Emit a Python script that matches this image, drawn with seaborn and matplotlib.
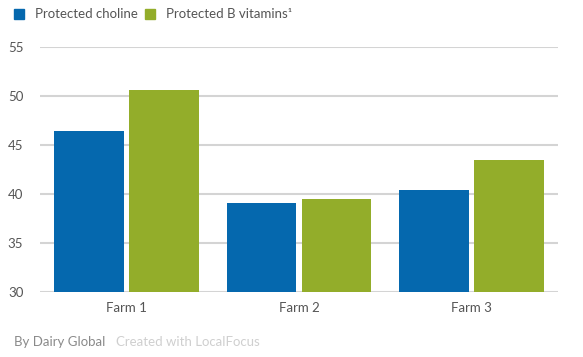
import matplotlib
matplotlib.use("Agg")
import matplotlib.pyplot as plt
import seaborn as sns
import pandas as pd
from matplotlib.patches import Rectangle

farms = ["Farm 1", "Farm 2", "Farm 3"]
series = ["Protected choline", "Protected B vitamins¹"]
choline = [46.4, 39.1, 40.4]
b_vitamins = [50.6, 39.5, 43.5]
y_ticks = [30, 35, 40, 45, 50, 55]

colors = ["#0568ae", "#93ad2a"]

df = pd.DataFrame({
    "farm": farms * 2,
    "series": [series[0]] * 3 + [series[1]] * 3,
    "value": choline + b_vitamins,
})

sns.set_theme(style="white")
plt.rcParams["font.family"] = ["Lato", "DejaVu Sans"]

fig = plt.figure(figsize=(5.83, 3.57), dpi=100)
ax = fig.add_axes([40/583, 1-292/357, (558-40)/583, (292-47)/357])

sns.barplot(data=df, x="farm", y="value", hue="series", palette=colors,
            width=0.87, gap=0.07, ax=ax, legend=False, saturation=1,
            linewidth=0, zorder=3)

ax.set_ylim(30, 55)
ax.set_xlim(-0.5, 2.5)
ax.set_yticks(y_ticks)
ax.set_yticklabels([str(t) for t in y_ticks])
ax.yaxis.grid(True, color="#d4d4d4", linewidth=1.5, zorder=0)
ax.set_axisbelow(True)
for s in ax.spines.values():
    s.set_visible(False)
ax.set_xlabel("")
ax.set_ylabel("")
ax.tick_params(axis="y", length=0, pad=12, labelsize=9.5, labelcolor="#555555")
ax.tick_params(axis="x", length=0, pad=7, labelsize=9.5, labelcolor="#555555")

# legend
def legend_item(x, text, color):
    fig.patches.append(Rectangle((x/583, 1-19/357), 10/583, 10/357,
                                 transform=fig.transFigure, color=color))
    fig.text((x+21)/583, 1-14/357, text, fontsize=9.5, color="#555555",
             va="center", ha="left")

legend_item(14, series[0], colors[0])
legend_item(145, series[1], colors[1])

fig.text(14/583, 1-342/357, "By Dairy Global", fontsize=9.5, color="#8a8a8a",
         va="center", ha="left")
fig.text(116/583, 1-342/357, "Created with LocalFocus", fontsize=9.5,
         color="#cfcfcf", va="center", ha="left")

fig.savefig("out.png", dpi=100)
